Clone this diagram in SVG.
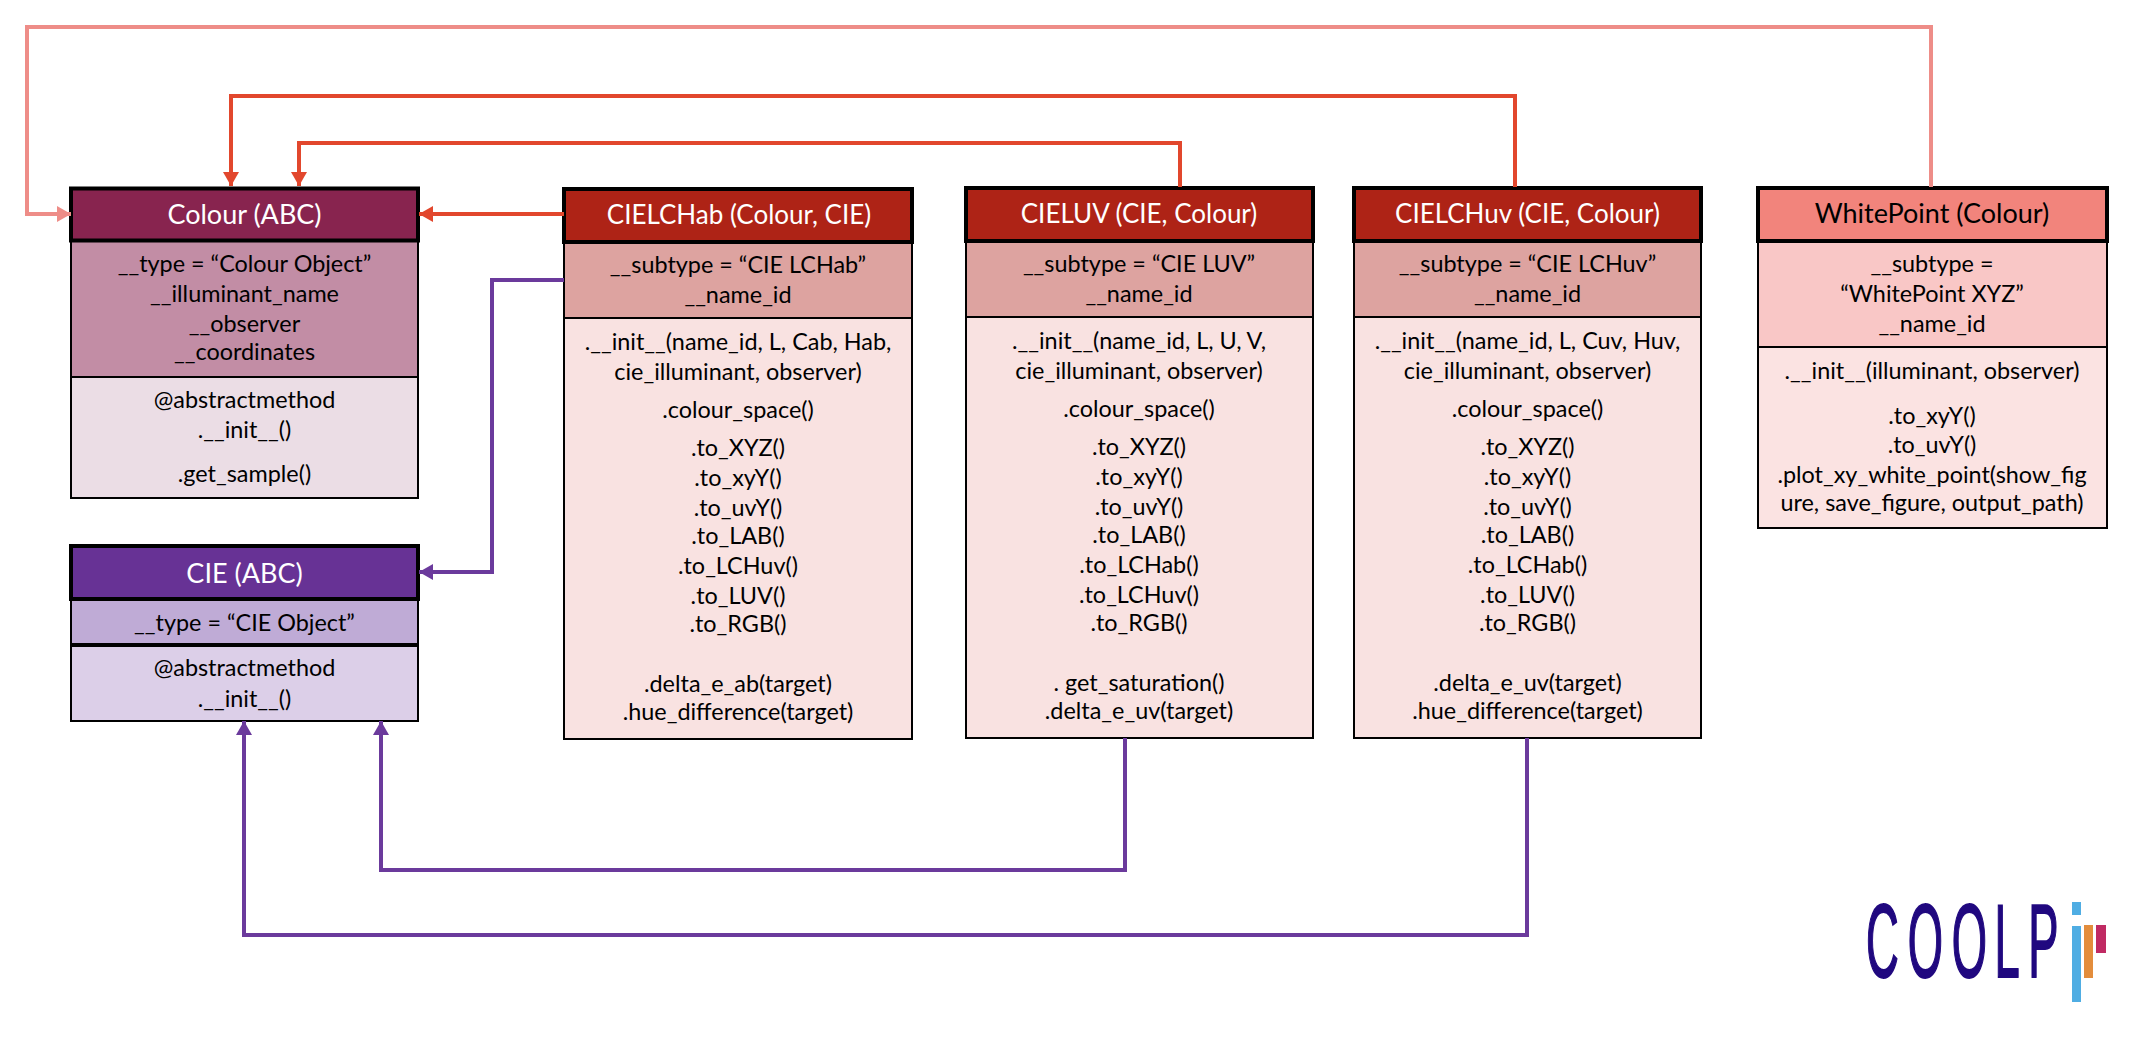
<svg xmlns="http://www.w3.org/2000/svg" width="2144" height="1044" viewBox="0 0 2144 1044">
<style>
text{font-family:"Lato","Carlito","Open Sans",sans-serif;font-size:23.4px;text-anchor:middle;fill:#000}
.h{font-size:27px;fill:#fff}
.hn{font-size:26px;fill:#fff}
.hd{font-size:27px;fill:#000}
.hb{stroke:#000;stroke-width:4}
.ab{stroke:#000;stroke-width:2}
.c{fill:none;stroke-width:4;stroke-linejoin:miter}
.pk{stroke:#ee8d88}.rd{stroke:#e2472d}.pu{stroke:#6b3a9c}
.cl{fill:#88244f}.cm{fill:#c28da5}.cf{fill:#ebdde5}
.il{fill:#673295}.im{fill:#bfabd6}.if{fill:#dccfe8}
.rh{fill:#ae2316}.rm{fill:#dda3a0}.rf{fill:#f9e2e1}
.wh{fill:#f2847c}.wm{fill:#f9c7c6}.wf{fill:#fbe3e2}
.lg{font-family:"Liberation Sans",sans-serif;font-size:103px;fill:#20087f;stroke:#20087f;stroke-width:2;text-anchor:start}
</style>
<defs>
<marker id="ap" markerUnits="userSpaceOnUse" markerWidth="15" markerHeight="16" refX="14" refY="8" orient="auto"><path d="M0 0L14 8L0 16Z" fill="#ee8d88"/></marker>
<marker id="ar" markerUnits="userSpaceOnUse" markerWidth="15" markerHeight="16" refX="14" refY="8" orient="auto"><path d="M0 0L14 8L0 16Z" fill="#e2472d"/></marker>
<marker id="au" markerUnits="userSpaceOnUse" markerWidth="15" markerHeight="16" refX="14" refY="8" orient="auto"><path d="M0 0L14 8L0 16Z" fill="#6b3a9c"/></marker>
</defs>
<rect width="2144" height="1044" fill="#fff"/>

<g id="Colour">
<rect class="cm ab" x="71" y="241" width="347" height="136"/>
<rect class="cf ab" x="71" y="377" width="347" height="121"/>
<rect class="cl hb" x="71" y="188.500" width="347" height="52"/>
<text class="h" x="244.500" y="224">Colour (ABC)</text>
<text x="244.500" y="272">__type = “Colour Object”</text>
<text x="244.500" y="302">__illuminant_name</text>
<text x="244.500" y="332">__observer</text>
<text x="244.500" y="360">__coordinates</text>
<text x="244.500" y="408">@abstractmethod</text>
<text x="244.500" y="438">.__init__()</text>
<text x="244.500" y="482">.get_sample()</text>
</g>

<g id="CIE">
<rect class="im ab" x="71" y="599" width="347" height="46"/>
<rect class="if ab" x="71" y="645" width="347" height="76"/>
<rect class="il hb" x="71" y="546" width="347" height="53"/>
<line class="hb" x1="71" y1="645" x2="418" y2="645"/>
<text class="h" x="244.500" y="583">CIE (ABC)</text>
<text x="244.500" y="631">__type = “CIE Object”</text>
<text x="244.500" y="676">@abstractmethod</text>
<text x="244.500" y="707">.__init__()</text>
</g>

<g id="CIELCHab">
<rect class="rm ab" x="564" y="242" width="348" height="76"/>
<rect class="rf ab" x="564" y="318" width="348" height="421"/>
<rect class="rh hb" x="564" y="189" width="348" height="53"/>
<text class="hn" x="739" y="224">CIELCHab (Colour, CIE)</text>
<text x="738" y="273">__subtype = “CIE LCHab”</text>
<text x="738" y="303">__name_id</text>
<text x="738" y="350">.__init__(name_id, L, Cab, Hab,</text>
<text x="738" y="380">cie_illuminant, observer)</text>
<text x="738" y="418">.colour_space()</text>
<text x="738" y="456">.to_XYZ()</text>
<text x="738" y="486">.to_xyY()</text>
<text x="738" y="516">.to_uvY()</text>
<text x="738" y="544">.to_LAB()</text>
<text x="738" y="574">.to_LCHuv()</text>
<text x="738" y="604">.to_LUV()</text>
<text x="738" y="632">.to_RGB()</text>
<text x="738" y="692">.delta_e_ab(target)</text>
<text x="738" y="720">.hue_difference(target)</text>
</g>

<g id="CIELUV">
<rect class="rm ab" x="966" y="241" width="347" height="76"/>
<rect class="rf ab" x="966" y="317" width="347" height="421"/>
<rect class="rh hb" x="966" y="188" width="347" height="53"/>
<text class="hn" x="1139" y="223">CIELUV (CIE, Colour)</text>
<text x="1139" y="272">__subtype = “CIE LUV”</text>
<text x="1139" y="302">__name_id</text>
<text x="1139" y="349">.__init__(name_id, L, U, V,</text>
<text x="1139" y="379">cie_illuminant, observer)</text>
<text x="1139" y="417">.colour_space()</text>
<text x="1139" y="455">.to_XYZ()</text>
<text x="1139" y="485">.to_xyY()</text>
<text x="1139" y="515">.to_uvY()</text>
<text x="1139" y="543">.to_LAB()</text>
<text x="1139" y="573">.to_LCHab()</text>
<text x="1139" y="603">.to_LCHuv()</text>
<text x="1139" y="631">.to_RGB()</text>
<text x="1139" y="691">. get_saturation()</text>
<text x="1139" y="719">.delta_e_uv(target)</text>
</g>

<g id="CIELCHuv">
<rect class="rm ab" x="1354" y="241" width="347" height="76"/>
<rect class="rf ab" x="1354" y="317" width="347" height="421"/>
<rect class="rh hb" x="1354" y="188" width="347" height="53"/>
<text class="hn" x="1527.500" y="223">CIELCHuv (CIE, Colour)</text>
<text x="1527.500" y="272">__subtype = “CIE LCHuv”</text>
<text x="1527.500" y="302">__name_id</text>
<text x="1527.500" y="349">.__init__(name_id, L, Cuv, Huv,</text>
<text x="1527.500" y="379">cie_illuminant, observer)</text>
<text x="1527.500" y="417">.colour_space()</text>
<text x="1527.500" y="455">.to_XYZ()</text>
<text x="1527.500" y="485">.to_xyY()</text>
<text x="1527.500" y="515">.to_uvY()</text>
<text x="1527.500" y="543">.to_LAB()</text>
<text x="1527.500" y="573">.to_LCHab()</text>
<text x="1527.500" y="603">.to_LUV()</text>
<text x="1527.500" y="631">.to_RGB()</text>
<text x="1527.500" y="691">.delta_e_uv(target)</text>
<text x="1527.500" y="719">.hue_difference(target)</text>
</g>

<g id="WhitePoint">
<rect class="wm ab" x="1758" y="241" width="349" height="106"/>
<rect class="wf ab" x="1758" y="347" width="349" height="181"/>
<rect class="wh hb" x="1758" y="188" width="349" height="53"/>
<text class="hd" x="1932" y="223">WhitePoint (Colour)</text>
<text x="1932" y="272">__subtype =</text>
<text x="1932" y="302">“WhitePoint XYZ”</text>
<text x="1932" y="332">__name_id</text>
<text x="1932" y="379">.__init__(illuminant, observer)</text>
<text x="1932" y="424">.to_xyY()</text>
<text x="1932" y="453">.to_uvY()</text>
<text x="1932" y="483">.plot_xy_white_point(show_fig</text>
<text x="1932" y="511">ure, save_figure, output_path)</text>
</g>

<g id="connectors">
<path class="c pk" d="M1931 187V27H27V214H71" marker-end="url(#ap)"/>
<path class="c rd" d="M1515 187V96H231V186" marker-end="url(#ar)"/>
<path class="c rd" d="M1180 187V143H299V186" marker-end="url(#ar)"/>
<path class="c rd" d="M564 214H419" marker-end="url(#ar)"/>
<path class="c pu" d="M564 280H492V572H419" marker-end="url(#au)"/>
<path class="c pu" d="M1125 738V870H381V721" marker-end="url(#au)"/>
<path class="c pu" d="M1527 738V935H244V721" marker-end="url(#au)"/>
</g>

<g id="logo">
<text class="lg" transform="translate(1866 977) scale(.44 1)" x="0 95 195 292 369" y="0">COOLP</text>
<rect x="2072" y="902" width="9" height="13" fill="#4fade3"/>
<rect x="2072" y="926" width="9" height="76" fill="#4fade3"/>
<rect x="2084" y="925" width="9" height="53" fill="#e38d3c"/>
<rect x="2096" y="925" width="10" height="28" fill="#c02a63"/>
</g>
</svg>
